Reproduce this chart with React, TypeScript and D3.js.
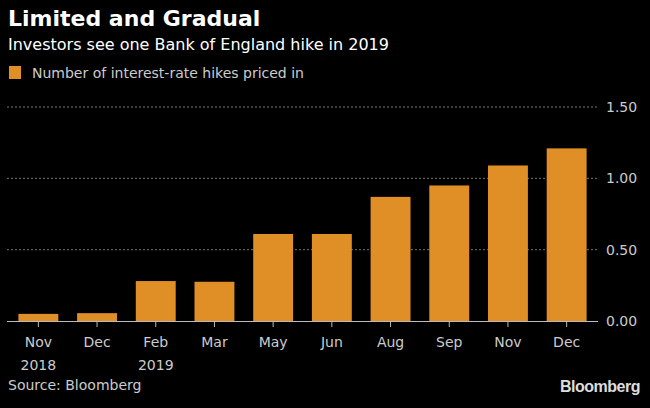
import { useEffect, useRef } from "react";
import * as d3 from "d3";

const months = ["Nov", "Dec", "Feb", "Mar", "May", "Jun", "Aug", "Sep", "Nov ", "Dec "];
const years = ["2018", "", "2019", "", "", "", "", "", "", ""];
const hikes = [0.05, 0.055, 0.28, 0.275, 0.61, 0.61, 0.87, 0.95, 1.09, 1.21];
const yTicks = [0, 0.5, 1, 1.5];

const W = 650;
const H = 408;
const BAR = "#e08e26";
const FONT = "'DejaVu Sans', sans-serif";

export default function App() {
    const svgRef = useRef<SVGSVGElement>(null);

    useEffect(() => {
        document.body.style.margin = "0";
        const svg = d3.select(svgRef.current);
        svg.selectAll("*").remove();

        svg.append("rect").attr("width", W).attr("height", H).attr("fill", "#000");

        // header
        svg.append("text")
            .attr("x", 8).attr("y", 26)
            .attr("fill", "#fff")
            .style("font-family", FONT)
            .style("font-weight", "bold")
            .style("font-size", "22px")
            .text("Limited and Gradual");

        svg.append("text")
            .attr("x", 8).attr("y", 50)
            .attr("fill", "#fff")
            .style("font-family", FONT)
            .style("font-size", "16px")
            .text("Investors see one Bank of England hike in 2019");

        svg.append("rect")
            .attr("x", 9).attr("y", 66).attr("width", 12).attr("height", 13)
            .attr("fill", BAR);
        svg.append("text")
            .attr("x", 32).attr("y", 78)
            .attr("fill", "#ccc")
            .style("font-family", FONT)
            .style("font-size", "14px")
            .text("Number of interest-rate hikes priced in");

        const x = d3.scaleBand<string>()
            .domain(months)
            .range([9, 596])
            .paddingInner(0.32)
            .paddingOuter(0.16);

        const y = d3.scaleLinear().domain([0, 1.5]).range([321, 107]);

        // gridlines
        svg.append("g")
            .selectAll("line")
            .data(yTicks.filter(d => d > 0))
            .enter()
            .append("line")
            .attr("x1", 7).attr("x2", 598)
            .attr("y1", d => y(d)).attr("y2", d => y(d))
            .attr("stroke", "#777")
            .attr("stroke-width", 1)
            .attr("stroke-dasharray", "2,2");

        // bars
        svg.append("g")
            .selectAll("rect")
            .data(hikes)
            .enter()
            .append("rect")
            .attr("x", (_, i) => x(months[i]) || 0)
            .attr("width", x.bandwidth())
            .attr("y", d => y(d))
            .attr("height", d => y(0) - y(d))
            .attr("fill", BAR);

        // x axis
        svg.append("line")
            .attr("x1", 7).attr("x2", 598)
            .attr("y1", y(0) + 0.5).attr("y2", y(0) + 0.5)
            .attr("stroke", "#bbb");

        const ticks = svg.append("g")
            .selectAll("g")
            .data(months)
            .enter()
            .append("g")
            .attr("transform", d => `translate(${(x(d) || 0) + x.bandwidth() / 2},0)`);

        ticks.append("line")
            .attr("y1", y(0)).attr("y2", y(0) + 6)
            .attr("stroke", "#bbb");

        ticks.append("text")
            .attr("y", 347)
            .attr("text-anchor", "middle")
            .attr("fill", "#ccc")
            .style("font-family", FONT)
            .style("font-size", "14px")
            .text(d => d.trim());

        ticks.append("text")
            .attr("y", 370)
            .attr("text-anchor", "middle")
            .attr("fill", "#ccc")
            .style("font-family", FONT)
            .style("font-size", "14px")
            .text((_, i) => years[i]);

        // y axis labels
        svg.append("g")
            .selectAll("text")
            .data(yTicks)
            .enter()
            .append("text")
            .attr("x", 606)
            .attr("y", d => y(d) + 5)
            .attr("fill", "#ccc")
            .style("font-family", FONT)
            .style("font-size", "14px")
            .text(d => d3.format(".2f")(d));

        // footer
        svg.append("text")
            .attr("x", 8).attr("y", 390)
            .attr("fill", "#ccc")
            .style("font-family", FONT)
            .style("font-size", "14px")
            .text("Source: Bloomberg");

        svg.append("text")
            .attr("x", 640).attr("y", 392)
            .attr("text-anchor", "end")
            .attr("fill", "#ddd")
            .style("font-family", "'Liberation Sans', Arial, sans-serif")
            .style("font-weight", "bold")
            .style("font-size", "16px")
            .style("letter-spacing", "-0.5px")
            .text("Bloomberg");
    }, []);

    return <svg ref={svgRef} width={W} height={H} style={{ display: "block" }} />;
}
